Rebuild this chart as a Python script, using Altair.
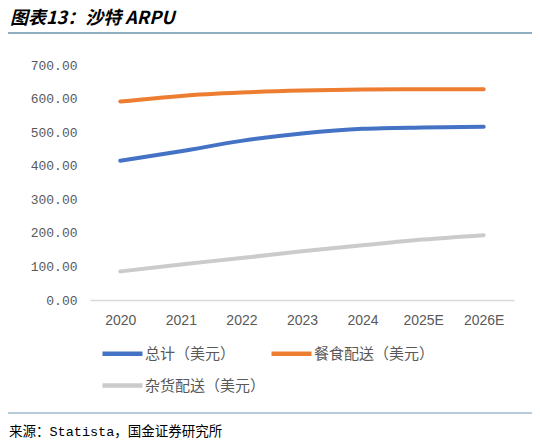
import altair as alt
import pandas as pd

# categories and series
years = ["2020", "2021", "2022", "2023", "2024", "2025E", "2026E"]
total = [415, 443, 474, 496, 510, 514, 516]
food = [591, 608, 618, 624, 627, 628, 628]
grocery = [85, 106, 125, 145, 163, 180, 193]
series = ["总计（美元）", "餐食配送（美元）", "杂货配送（美元）"]
colors = ["#4472C4", "#ED7D31", "#CBCBCB"]

title_txt = "图表13：沙特 ARPU"
source_txt = "来源：Statista，国金证券研究所"

rows = []
for name, vals in zip(series, [total, food, grocery]):
    for yr, v in zip(years, vals):
        rows.append({"year": yr, "value": v, "series": name})
df = pd.DataFrame(rows)

lines = alt.Chart(df).mark_line(
    strokeWidth=4, strokeCap="round", interpolate="monotone"
).encode(
    x=alt.X("year:N", sort=years, title=None,
            scale=alt.Scale(type="point", padding=0.5),
            axis=alt.Axis(labelFont="Liberation Sans", labelFontSize=14,
                          labelColor="#595959", labelPadding=13, ticks=False,
                          domainColor="#d9d9d9", domainWidth=1.5, labelAngle=0)),
    y=alt.Y("value:Q", title=None,
            scale=alt.Scale(domain=[0, 700], nice=False),
            axis=alt.Axis(values=[0, 100, 200, 300, 400, 500, 600, 700], format=".2f",
                          labelFont="Liberation Mono", labelFontSize=13,
                          labelColor="#595959", labelPadding=13, ticks=False,
                          domain=False, grid=False)),
    color=alt.Color("series:N",
                    scale=alt.Scale(domain=series, range=colors),
                    legend=alt.Legend(title=None, orient="none", legendX=10, legendY=266,
                                      values=series, direction="horizontal",
                                      columns=2, columnPadding=-4, rowPadding=-19,
                                      symbolType="stroke", symbolSize=1600,
                                      symbolStrokeWidth=4.5, labelOffset=0,
                                      labelFont="Noto Sans CJK SC", labelFontSize=15,
                                      labelColor="#595959")),
)

title = alt.Chart(pd.DataFrame({"t": [title_txt]})).mark_text(
    align="left", baseline="middle", font="Noto Sans CJK SC", fontSize=18,
    fontWeight="bold", fontStyle="italic", color="#000000"
).encode(x=alt.value(-80), y=alt.value(-46), text="t:N")

top_rule = alt.Chart(pd.DataFrame({"a": [0]})).mark_rule(
    color="#6a93a8", strokeWidth=1.5
).encode(x=alt.value(-85), x2=alt.value(445), y=alt.value(-32))

bottom_rule = alt.Chart(pd.DataFrame({"a": [0]})).mark_rule(
    color="#b8cbd8", strokeWidth=2
).encode(x=alt.value(-85), x2=alt.value(445), y=alt.value(348))

source = alt.Chart(pd.DataFrame({"t": [source_txt]})).mark_text(
    align="left", baseline="middle", font="Liberation Mono, Noto Sans CJK SC",
    fontSize=13.5, color="#000000"
).encode(x=alt.value(-81), y=alt.value(367), text="t:N")

chart = alt.layer(lines, title, top_rule, bottom_rule, source).properties(
    width=424, height=235,
    autosize=alt.AutoSizeParams(type="none"),
    padding={"left": 82, "top": 57, "right": 18, "bottom": 144},
).configure_view(stroke=None)

chart.save("out.html", embed_options={"renderer": "svg", "actions": False})
